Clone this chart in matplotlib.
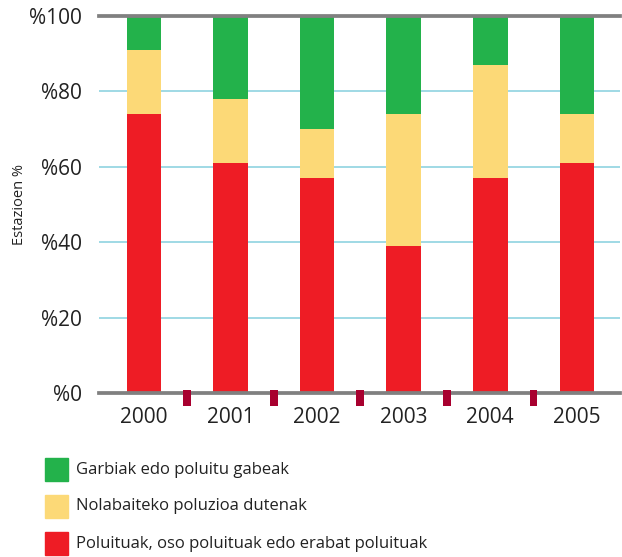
import matplotlib
matplotlib.use("Agg")
import matplotlib.pyplot as plt
from matplotlib.patches import Rectangle
import numpy as np

# data (percent of stations)
years = ["2000", "2001", "2002", "2003", "2004", "2005"]
polluted = [74, 61, 57, 39, 57, 61]
some_pollution = [17, 17, 13, 35, 30, 13]
clean = [9, 22, 30, 26, 13, 26]
labels = ["Garbiak edo poluitu gabeak",
          "Nolabaiteko poluzioa dutenak",
          "Poluituak, oso poluituak edo erabat poluituak"]
yticks = [0, 20, 40, 60, 80, 100]

c_green = "#23b24b"
c_yellow = "#fcd977"
c_red = "#ee1c25"
c_mark = "#a8002f"

plt.rcParams['font.family'] = ['Open Sans', 'DejaVu Sans']

fig = plt.figure(figsize=(6.22, 5.57), dpi=100)
ax = fig.add_axes([0.159, 0.2944, 0.838, 0.677])

x = np.arange(len(years))
w = 0.40
bot2 = np.array(polluted) + np.array(some_pollution)
ax.bar(x, polluted, w, color=c_red, zorder=3)
ax.bar(x, some_pollution, w, bottom=polluted, color=c_yellow, zorder=3)
ax.bar(x, clean, w, bottom=bot2, color=c_green, zorder=3)

# small crimson separators between the years
sep = x[:-1] + 0.5
ax.bar(sep, [4.2] * len(sep), 0.09, bottom=-3.4, color=c_mark, zorder=6, clip_on=False)

ax.set_xlim(-0.52, 5.5)
ax.set_ylim(0, 100)
ax.set_yticks(yticks)
ax.set_yticklabels(["%" + str(v) for v in yticks], fontsize=15, color="#222222")
ax.set_xticks(x)
ax.set_xticklabels(years, fontsize=15, color="#222222")
ax.tick_params(length=0)
ax.tick_params(axis="y", pad=12)
ax.tick_params(axis="x", pad=10)

for v in yticks[1:-1]:
    ax.axhline(v, color="#9fd9e5", lw=1.4, zorder=1)
for s in ["left", "right"]:
    ax.spines[s].set_visible(False)
for s in ["top", "bottom"]:
    ax.spines[s].set_color("#808080")
    ax.spines[s].set_linewidth(2.7)
    ax.spines[s].set_zorder(4)

ax.set_ylabel("Estazioen %", fontsize=10.5, color="#222222")
ax.yaxis.set_label_coords(-0.138, 0.5)

# legend drawn by hand in figure pixels
leg_colors = [c_green, c_yellow, c_red]
W, H = 622, 557
for i, (col, lab) in enumerate(zip(leg_colors, labels)):
    y0 = 481 + i * 37
    fig.patches.append(Rectangle((45 / W, 1 - y0 / H), 23 / W, 23 / H,
                                 transform=fig.transFigure, color=col))
    fig.text(76 / W, 1 - (y0 - 11.5) / H, lab, fontsize=12, color="#222222",
             va="center", ha="left")

fig.savefig("out.png", dpi=100)
